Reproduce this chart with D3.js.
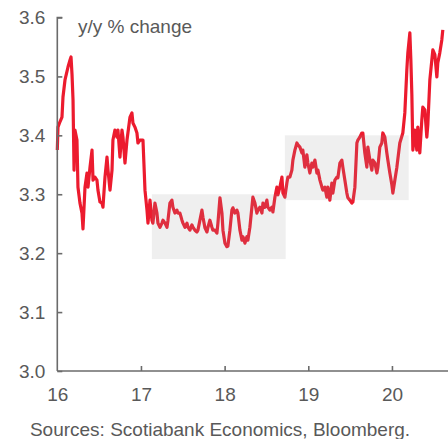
<!DOCTYPE html>
<html>
<head>
<meta charset="utf-8">
<script src="https://cdn.jsdelivr.net/npm/d3@7"></script>
<style>
  html, body { margin: 0; padding: 0; background: #fff; }
  svg { display: block; font-family: "Liberation Sans", Arial, sans-serif; }
</style>
</head>
<body>
<svg id="chart" width="448" height="439"></svg>
<script>
// Decimal-year dates and y/y % change values
const dates = [
  2016.000,2016.008,2016.032,2016.056,2016.068,2016.092,2016.128,2016.152,2016.164,2016.176,
  2016.188,2016.200,2016.211,2016.235,2016.247,2016.271,2016.295,2016.307,2016.331,2016.355,
  2016.367,2016.391,2016.415,2016.427,2016.450,2016.474,2016.486,2016.510,2016.534,2016.546,
  2016.570,2016.594,2016.606,2016.630,2016.654,2016.665,2016.689,2016.713,2016.725,2016.749,
  2016.773,2016.785,2016.809,2016.833,2016.869,2016.892,2016.904,2016.928,2016.952,2016.964,
  2016.988,2017.024,2017.036,2017.048,2017.072,2017.084,2017.108,2017.131,2017.143,2017.167,
  2017.191,2017.203,2017.227,2017.251,2017.263,2017.287,2017.311,2017.323,2017.346,2017.370,
  2017.382,2017.406,2017.430,2017.442,2017.466,2017.490,2017.502,2017.526,2017.550,2017.562,
  2017.585,2017.609,2017.621,2017.645,2017.669,2017.681,2017.705,2017.729,2017.741,2017.765,
  2017.789,2017.801,2017.824,2017.848,2017.860,2017.884,2017.908,2017.920,2017.944,2017.968,
  2017.980,2018.004,2018.027,2018.039,2018.063,2018.087,2018.099,2018.123,2018.147,2018.159,
  2018.183,2018.207,2018.219,2018.243,2018.266,2018.278,2018.302,2018.326,2018.338,2018.362,
  2018.386,2018.398,2018.422,2018.446,2018.458,2018.481,2018.505,2018.517,2018.541,2018.565,
  2018.577,2018.601,2018.625,2018.637,2018.661,2018.685,2018.697,2018.720,2018.744,2018.756,
  2018.780,2018.804,2018.816,2018.840,2018.864,2018.876,2018.900,2018.924,2018.935,2018.959,
  2018.983,2018.995,2019.019,2019.043,2019.055,2019.079,2019.103,2019.115,2019.139,2019.163,
  2019.174,2019.198,2019.222,2019.234,2019.258,2019.282,2019.294,2019.318,2019.342,2019.354,
  2019.378,2019.401,2019.413,2019.437,2019.461,2019.473,2019.497,2019.521,2019.533,2019.557,
  2019.581,2019.593,2019.616,2019.640,2019.652,2019.676,2019.700,2019.712,2019.736,2019.760,
  2019.772,2019.796,2019.820,2019.832,2019.855,2019.879,2019.891,2019.915,2019.939,2019.951,
  2019.975,2019.999,2020.011,2020.035,2020.059,2020.094,2020.130,2020.154,2020.178,2020.190,
  2020.214,2020.226,2020.238,2020.250,2020.274,2020.297,2020.309,2020.333,2020.357,2020.369,
  2020.393,2020.417,2020.429,2020.453,2020.477,2020.489,2020.513,2020.537,2020.548,2020.572,
  2020.596,2020.608
];
const values = [
  3.375,3.414,3.423,3.431,3.465,3.494,3.516,3.528,3.533,3.503,
  3.460,3.341,3.409,3.392,3.312,3.285,3.268,3.241,3.312,3.336,
  3.312,3.346,3.375,3.324,3.329,3.324,3.307,3.287,3.285,3.278,
  3.329,3.363,3.341,3.307,3.341,3.392,3.409,3.397,3.409,3.363,
  3.409,3.397,3.353,3.392,3.431,3.438,3.421,3.414,3.404,3.387,
  3.392,3.392,3.350,3.307,3.273,3.251,3.290,3.256,3.251,3.285,
  3.268,3.251,3.244,3.251,3.256,3.251,3.244,3.256,3.285,3.290,
  3.278,3.268,3.273,3.268,3.268,3.256,3.251,3.244,3.251,3.244,
  3.239,3.248,3.244,3.239,3.236,3.239,3.256,3.273,3.261,3.243,
  3.236,3.244,3.256,3.244,3.239,3.239,3.234,3.251,3.294,3.268,
  3.239,3.217,3.211,3.212,3.239,3.273,3.277,3.268,3.273,3.268,
  3.239,3.222,3.228,3.217,3.228,3.222,3.244,3.278,3.295,3.285,
  3.268,3.273,3.278,3.268,3.285,3.278,3.290,3.278,3.273,3.278,
  3.270,3.295,3.312,3.299,3.312,3.329,3.302,3.295,3.319,3.329,
  3.329,3.341,3.358,3.375,3.387,3.384,3.380,3.370,3.375,3.346,
  3.367,3.353,3.336,3.353,3.346,3.358,3.336,3.341,3.324,3.312,
  3.307,3.312,3.295,3.312,3.290,3.319,3.302,3.324,3.329,3.328,
  3.353,3.358,3.346,3.324,3.302,3.294,3.290,3.285,3.287,3.312,
  3.387,3.392,3.397,3.404,3.404,3.370,3.346,3.380,3.358,3.341,
  3.358,3.353,3.336,3.346,3.380,3.387,3.404,3.397,3.370,3.358,
  3.336,3.316,3.302,3.324,3.346,3.387,3.404,3.438,3.511,3.540,
  3.574,3.528,3.469,3.375,3.409,3.375,3.414,3.370,3.426,3.448,
  3.443,3.397,3.418,3.494,3.528,3.545,3.537,3.499,3.523,3.540,
  3.562,3.579
];

// Shaded ranges: [start, end, low, high]
const bandStart = [2017.13, 2018.72];
const bandEnd   = [2018.73, 2020.20];
const bandLow   = [3.19, 3.29];
const bandHigh  = [3.30, 3.40];

const yTicks = [3.0, 3.1, 3.2, 3.3, 3.4, 3.5, 3.6];
const xTicks = [2016, 2017, 2018, 2019, 2020];

const titleText = "y/y % change";
const sourceText = "Sources: Scotiabank Economics, Bloomberg.";

const svg = d3.select("#chart");
const textColor = "#595959";
const axisColor = "#6b6b6b";
const fontSize = 19;

const x = d3.scaleLinear().domain([2016, 2020.67]).range([57.3, 448]);
const y = d3.scaleLinear().domain([3.0, 3.6]).range([371, 17.5]);

const series = dates.map((d, i) => ({ t: d, v: values[i] }));

// series line
svg.append("path")
  .datum(series)
  .attr("fill", "none")
  .attr("stroke", "#ec1b2e")
  .attr("stroke-width", 3.2)
  .attr("stroke-linejoin", "round")
  .attr("d", d3.line().x(d => x(d.t)).y(d => y(d.v)));

// translucent shaded bands over the line
svg.append("g").selectAll("rect")
  .data(bandStart.map((s, i) => ({ s, e: bandEnd[i], lo: bandLow[i], hi: bandHigh[i] })))
  .join("rect")
  .attr("x", d => x(d.s))
  .attr("width", d => x(d.e) - x(d.s))
  .attr("y", d => y(d.hi))
  .attr("height", d => y(d.lo) - y(d.hi))
  .attr("fill", "#9a9a9a")
  .attr("fill-opacity", 0.16);

// y axis (ticks pointing inward)
const yAxis = svg.append("g")
  .attr("transform", `translate(${x(2016)},0)`)
  .call(d3.axisRight(y).tickValues(yTicks).tickSize(5).tickFormat(d3.format(".1f")));
yAxis.select(".domain").attr("stroke", axisColor).attr("stroke-width", 1.6)
  .attr("d", `M5,${y(3.6)}H0V${y(3.0)}`);
yAxis.selectAll(".tick line").attr("stroke", axisColor).attr("stroke-width", 1.6);
yAxis.selectAll(".tick text")
  .attr("x", -12).attr("text-anchor", "end")
  .attr("fill", textColor).attr("font-size", fontSize);

// x axis (ticks pointing up)
const xAxis = svg.append("g")
  .attr("transform", `translate(0,${y(3.0)})`)
  .call(d3.axisTop(x).tickValues(xTicks).tickSize(5).tickFormat(d => String(d).slice(2)));
xAxis.select(".domain").attr("stroke", axisColor).attr("stroke-width", 1.6)
  .attr("d", `M${x(2016)},0H448`);
xAxis.selectAll(".tick line").attr("stroke", axisColor).attr("stroke-width", 1.6)
  .attr("display", d => d === 2016 ? "none" : null);
xAxis.selectAll(".tick text")
  .attr("y", 17).attr("dy", "0.71em")
  .attr("fill", textColor).attr("font-size", fontSize);

// unit label
svg.append("text")
  .attr("x", 78).attr("y", 33)
  .attr("fill", textColor).attr("font-size", fontSize)
  .text(titleText);

// source note
svg.append("text")
  .attr("x", 220).attr("y", 436)
  .attr("text-anchor", "middle")
  .attr("fill", textColor).attr("font-size", fontSize)
  .text(sourceText);
</script>
</body>
</html>
